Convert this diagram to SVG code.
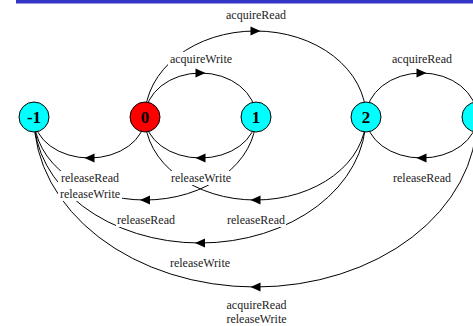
<svg xmlns="http://www.w3.org/2000/svg" xmlns:xlink="http://www.w3.org/1999/xlink" width="473" height="326" viewBox="0 0 473 326">
<style>
.e{fill:none;stroke:#000;stroke-width:1}
.lb{fill:#fff;stroke:none}
.t{font-family:"Liberation Serif","Times New Roman",serif;font-size:12px;fill:#222;text-anchor:middle}
.n{stroke:#000;stroke-width:1}
.nt{font-family:"Liberation Serif","Times New Roman",serif;font-size:17px;font-weight:bold;fill:#000;text-anchor:middle}
</style>
<defs>
<path id="ah" d="M5,0 L-5,-4.5 L-5,4.5 Z" fill="#000"/>
</defs>
<rect x="16" y="0" width="457" height="3.5" fill="#3535c8"/>
<g id="connectors">
<path class="e" d="M145,117 A55.5,44 0 0 1 256,117"/>
<path class="e" d="M145,117 A110.5,86 0 0 1 366,117"/>
<path class="e" d="M366,117 A55.5,44 0 0 1 477,117"/>
<path class="e" d="M477,117 A55.5,41 0 0 1 366,117"/>
<path class="e" d="M256,117 A55.5,41 0 0 1 145,117"/>
<path class="e" d="M145,117 A55.5,41 0 0 1 34,117"/>
<path class="e" d="M256,117 A111,83 0 0 1 34,117"/>
<path class="e" d="M366,117 A110.5,83 0 0 1 145,117"/>
<path class="e" d="M366,117 A166,126 0 0 1 34,117"/>
<path class="e" d="M477,117 A221.5,170 0 0 1 34,117"/>
<use xlink:href="#ah" transform="translate(200.5,73)"/>
<use xlink:href="#ah" transform="translate(255.5,31)"/>
<use xlink:href="#ah" transform="translate(421.5,73)"/>
<use xlink:href="#ah" transform="translate(421.5,158) rotate(180)"/>
<use xlink:href="#ah" transform="translate(200.5,158) rotate(180)"/>
<use xlink:href="#ah" transform="translate(89.5,158) rotate(180)"/>
<use xlink:href="#ah" transform="translate(145,200) rotate(180)"/>
<use xlink:href="#ah" transform="translate(255.5,200) rotate(180)"/>
<use xlink:href="#ah" transform="translate(200,243) rotate(180)"/>
<use xlink:href="#ah" transform="translate(255.5,287) rotate(180)"/>
</g>
<g id="labels">
<rect class="lb" x="225" y="8" width="62" height="14"/><text class="t" x="256" y="19">acquireRead</text>
<rect class="lb" x="168" y="52" width="66" height="14"/><text class="t" x="201" y="63">acquireWrite</text>
<rect class="lb" x="391" y="52" width="62" height="14"/><text class="t" x="422" y="63">acquireRead</text>
<rect class="lb" x="391" y="171" width="62" height="14"/><text class="t" x="422" y="182">releaseRead</text>
<rect class="lb" x="169" y="171" width="64" height="14"/><text class="t" x="201" y="182">releaseWrite</text>
<rect class="lb" x="58" y="171" width="64" height="30"/><text class="t" x="90" y="182">releaseRead</text><text class="t" x="90" y="198">releaseWrite</text>
<rect class="lb" x="116" y="213" width="60" height="14"/><text class="t" x="146" y="224">releaseRead</text>
<rect class="lb" x="226" y="213" width="60" height="14"/><text class="t" x="256" y="224">releaseRead</text>
<rect class="lb" x="168" y="256" width="64" height="14"/><text class="t" x="200" y="267">releaseWrite</text>
<rect class="lb" x="224" y="298" width="65" height="28"/><text class="t" x="256.5" y="308.5">acquireRead</text><text class="t" x="256.5" y="323">releaseWrite</text>
</g>
<g id="node-m1"><circle class="n" cx="34" cy="117" r="15" fill="#00ffff"/><text class="nt" x="34" y="123">-1</text></g>
<g id="node-0"><circle class="n" cx="145" cy="117" r="15" fill="#ff0000"/><text class="nt" x="145" y="123">0</text></g>
<g id="node-1"><circle class="n" cx="256" cy="117" r="15" fill="#00ffff"/><text class="nt" x="256" y="123">1</text></g>
<g id="node-2"><circle class="n" cx="366" cy="117" r="15" fill="#00ffff"/><text class="nt" x="366" y="123">2</text></g>
<g id="node-3"><circle class="n" cx="477" cy="117" r="15" fill="#00ffff"/></g>
</svg>
